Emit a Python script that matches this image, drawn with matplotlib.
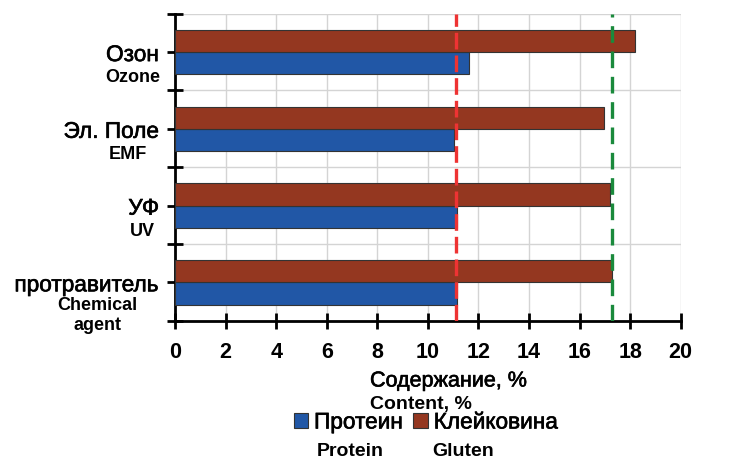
import matplotlib.pyplot as plt
from matplotlib.patches import Patch
import matplotlib.patheffects as pe
import numpy as np

plt.rcParams['font.family'] = ['Liberation Sans', 'DejaVu Sans']

# categories bottom -> top
cats_ru = ['протравитель', 'УФ', 'Эл. Поле', 'Озон']
cats_en = ['Chemical\nagent', 'UV', 'EMF', 'Ozone']
protein = [11.15, 11.15, 11.04, 11.62]
gluten = [17.28, 17.2, 16.98, 18.19]
protein_ref = 11.12
gluten_ref = 17.27

W, H = 734, 460
fig = plt.figure(figsize=(W / 100, H / 100), dpi=100)
ax = fig.add_axes([175 / W, 1 - 321.7 / H, (680.7 - 175) / W, (321.7 - 14.7) / H])

# slightly heavier regular text, like the original rendering
heavy = [pe.withStroke(linewidth=0.45, foreground='black')]

y = np.arange(len(cats_ru))
bh = 0.29
ax.barh(y - bh / 2, protein, height=bh, color='#2157a6', edgecolor='#333333', linewidth=0.8, zorder=3)
ax.barh(y + bh / 2, gluten, height=bh, color='#943720', edgecolor='#333333', linewidth=0.8, zorder=3)

ax.axvline(protein_ref, color='#ee3333', lw=2.4, dashes=(5, 1.8), zorder=4)
ax.axvline(gluten_ref, color='#1a8a3c', lw=2.4, dashes=(5, 2.6), zorder=4)

ax.set_xlim(0, 20)
ax.set_ylim(-0.5, len(cats_ru) - 0.5)
ax.set_xticks(np.arange(0, 21, 2))
ax.set_xticklabels([str(v) for v in range(0, 21, 2)], fontsize=15.5, fontweight='bold')
ax.set_yticks(y)
ax.set_yticklabels(cats_ru, fontsize=16.3, path_effects=heavy)
ax.set_yticks(np.arange(-0.5, len(cats_ru)), minor=True)

ax.grid(axis='x', color='#d4d4d4', lw=1, zorder=0)
ax.grid(axis='y', which='minor', color='#d4d4d4', lw=1, zorder=0)
ax.tick_params(axis='both', which='both', direction='inout', length=11, width=2, color='black')
ax.tick_params(axis='y', which='major', pad=6)
ax.tick_params(axis='x', pad=9)
for s in ['top', 'right']:
    ax.spines[s].set_visible(False)
for s in ['left', 'bottom']:
    ax.spines[s].set_linewidth(2)

# english sublabels under category names (centers in pixels)
en_x = [97, 142, 128, 133]
en_dy = [32, 25, 25, 24]
for i, t in enumerate(cats_en):
    yc = ax.transData.transform((0, y[i]))[1]
    fig.text(en_x[i] / W, (yc - en_dy[i]) / H, t, ha='center', va='center',
             fontsize=13, fontweight='bold', linespacing=1.2)

fig.text(370 / W, 1 - 382 / H, 'Содержание, %', ha='left', va='center', fontsize=15.5, path_effects=heavy)
fig.text(370 / W, 1 - 405 / H, 'Content, %', ha='left', va='center', fontsize=14, fontweight='bold')

handles = [Patch(facecolor='#2157a6', edgecolor='#333333', lw=0.8),
           Patch(facecolor='#943720', edgecolor='#333333', lw=0.8)]
leg = fig.legend(handles, ['Протеин', 'Клейковина'], loc='center', bbox_to_anchor=(426 / W, 1 - 423 / H),
                 ncol=2, frameon=False, fontsize=16.3, handlelength=0.65, handleheight=0.65,
                 handletextpad=0.25, columnspacing=0.45, borderpad=0)
for t in leg.get_texts():
    t.set_path_effects(heavy)
fig.text(350 / W, 1 - 452 / H, 'Protein', ha='center', va='center', fontsize=14, fontweight='bold')
fig.text(463 / W, 1 - 452 / H, 'Gluten', ha='center', va='center', fontsize=14, fontweight='bold')

fig.savefig('out.png', dpi=100)
